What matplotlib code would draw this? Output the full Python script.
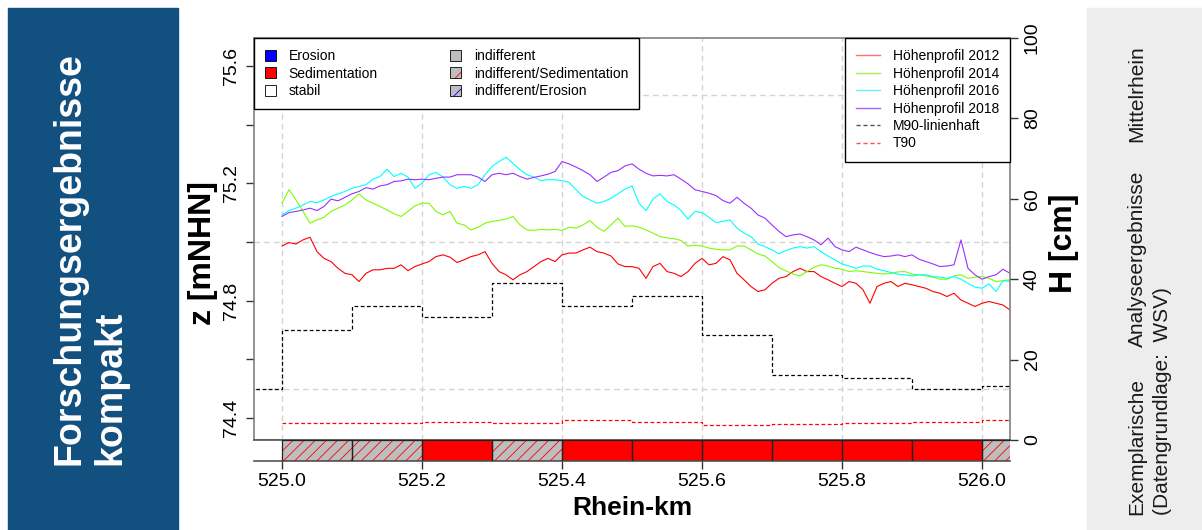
import numpy as np
import matplotlib
matplotlib.use("Agg")
import matplotlib.pyplot as plt
from matplotlib.patches import Patch, Rectangle
from matplotlib.lines import Line2D

plt.rcParams["font.family"] = ["Liberation Sans", "DejaVu Sans"]
plt.rcParams["hatch.linewidth"] = 0.6

# Rhein-km Stationen (alle 10 m)
km = np.round(np.linspace(525.0, 526.04, 105), 2)

hp_2012 = [74.986, 74.998, 74.993, 75.007, 75.016, 74.967, 74.944, 74.933, 74.910, 74.893,
           74.888, 74.865, 74.893, 74.905, 74.905, 74.910, 74.910, 74.922, 74.902, 74.916,
           74.925, 74.933, 74.950, 74.956, 74.948, 74.930,
           74.939, 74.950, 74.956, 74.967, 74.927, 74.899, 74.888, 74.871, 74.888, 74.899,
           74.916, 74.933, 74.944, 74.933, 74.956, 74.962, 74.962, 74.973, 74.982, 74.967,
           74.962, 74.952, 74.925, 74.916, 74.916,
           74.910, 74.876, 74.916, 74.927, 74.899, 74.893, 74.882, 74.899, 74.927, 74.944,
           74.922, 74.927, 74.950, 74.939, 74.893, 74.871, 74.848, 74.831, 74.837, 74.859,
           74.876, 74.882, 74.899, 74.910, 74.899,
           74.899, 74.882, 74.871, 74.859, 74.848, 74.865, 74.859, 74.837, 74.791, 74.848,
           74.859, 74.865, 74.848, 74.859, 74.854, 74.848, 74.842, 74.831, 74.825, 74.814,
           74.825, 74.802, 74.791, 74.780, 74.791, 74.797, 74.791, 74.785, 74.768]

hp_2014 = [75.132, 75.178, 75.143, 75.104, 75.064, 75.075, 75.084, 75.104, 75.115, 75.126,
           75.143, 75.164, 75.143, 75.132, 75.121, 75.109, 75.096, 75.087, 75.104, 75.123,
           75.132, 75.132, 75.104, 75.092, 75.104, 75.064,
           75.058, 75.041, 75.050, 75.064, 75.070, 75.073, 75.078, 75.087, 75.058, 75.041,
           75.039, 75.043, 75.041, 75.043, 75.039, 75.050, 75.047, 75.058, 75.073, 75.050,
           75.036, 75.058, 75.081, 75.053, 75.055,
           75.050, 75.041, 75.030, 75.018, 75.014, 75.011, 75.005, 74.986, 74.989, 74.986,
           74.979, 74.975, 74.973, 74.973, 74.986, 74.986, 74.973, 74.959, 74.952, 74.933,
           74.913, 74.901, 74.891, 74.884, 74.899,
           74.914, 74.922, 74.918, 74.910, 74.907, 74.899, 74.902, 74.899, 74.896, 74.893,
           74.891, 74.893, 74.898, 74.899, 74.890, 74.888, 74.884, 74.880, 74.873, 74.873,
           74.884, 74.888, 74.876, 74.880, 74.882, 74.876, 74.865, 74.868, 74.871]

hp_2016 = [75.092, 75.107, 75.115, 75.126, 75.138, 75.134, 75.143, 75.155, 75.164, 75.172,
           75.183, 75.189, 75.195, 75.214, 75.223, 75.248, 75.223, 75.234, 75.221, 75.183,
           75.200, 75.229, 75.237, 75.221, 75.195, 75.183,
           75.189, 75.183, 75.195, 75.229, 75.257, 75.274, 75.289, 75.268, 75.246, 75.229,
           75.221, 75.209, 75.212, 75.212, 75.209, 75.203, 75.178, 75.155, 75.143, 75.132,
           75.138, 75.149, 75.164, 75.180, 75.191,
           75.132, 75.107, 75.146, 75.164, 75.138, 75.126, 75.107, 75.078, 75.104, 75.100,
           75.084, 75.066, 75.070, 75.075, 75.047, 75.030, 75.018, 74.993, 74.984, 74.973,
           74.959, 74.971, 74.979, 74.984, 74.979,
           74.984, 74.967, 74.952, 74.939, 74.925, 74.918, 74.910, 74.918, 74.918, 74.907,
           74.902, 74.896, 74.890, 74.888, 74.884, 74.888, 74.888, 74.882, 74.880, 74.876,
           74.882, 74.873, 74.859, 74.846, 74.842, 74.857, 74.831, 74.868, 74.865]

hp_2018 = [75.087, 75.100, 75.104, 75.109, 75.115, 75.107, 75.121, 75.146, 75.140, 75.152,
           75.164, 75.172, 75.185, 75.180, 75.191, 75.195, 75.206, 75.208, 75.214, 75.212,
           75.214, 75.212, 75.217, 75.221, 75.221, 75.229,
           75.229, 75.229, 75.221, 75.206, 75.229, 75.234, 75.229, 75.234, 75.223, 75.214,
           75.220, 75.225, 75.231, 75.240, 75.274, 75.266, 75.255, 75.243, 75.229, 75.206,
           75.221, 75.237, 75.243, 75.259, 75.266,
           75.248, 75.234, 75.225, 75.227, 75.225, 75.229, 75.214, 75.198, 75.178, 75.172,
           75.166, 75.158, 75.141, 75.132, 75.152, 75.132, 75.115, 75.092, 75.081, 75.058,
           75.036, 75.018, 75.024, 75.027, 75.018,
           75.007, 74.990, 75.013, 74.984, 74.973, 74.967, 74.982, 74.973, 74.964, 74.956,
           74.950, 74.952, 74.956, 74.950, 74.956, 74.941, 74.933, 74.925, 74.916, 74.918,
           74.922, 75.007, 74.910, 74.888, 74.873, 74.882, 74.888, 74.907, 74.893]

# M90 / T90 je 100-m-Abschnitt [cm]
m90_start = [524.9, 525.0, 525.1, 525.2, 525.3, 525.4, 525.5, 525.6, 525.7, 525.8, 525.9, 526.0]
m90_cm = [12.7, 27.3, 33.4, 30.5, 39.0, 33.4, 35.7, 26.0, 16.2, 15.5, 12.8, 13.4]
t90_start = [525.0, 525.1, 525.2, 525.3, 525.4, 525.5, 525.6, 525.7, 525.8, 525.9, 526.0]
t90_cm = [4.15, 4.3, 4.6, 4.15, 4.9, 4.6, 3.7, 3.9, 4.2, 4.6, 4.9]

# Klassifizierung der Abschnitte
seg_start = [525.0, 525.1, 525.2, 525.3, 525.4, 525.5, 525.6, 525.7, 525.8, 525.9, 526.0]
seg_class = ["iS", "iS", "S", "iS", "S", "S", "S", "S", "S", "S", "iS"]

x_ticks = [525.0, 525.2, 525.4, 525.6, 525.8, 526.0]
z_ticks = [74.4, 74.6, 74.8, 75.0, 75.2, 75.4, 75.6]
z_labels = ["74.4", "", "74.8", "", "75.2", "", "75.6"]
h_ticks = [0, 20, 40, 60, 80, 100]
z_grid = [74.5, 75.0, 75.5]

W, H = 1202, 530
fig = plt.figure(figsize=(W / 100, H / 100), dpi=100)

# Seitenbalken
fig.add_artist(Rectangle((8 / W, 0), 170 / W, 522 / H, transform=fig.transFigure,
                         color="#11507F", zorder=0))
fig.add_artist(Rectangle((1087 / W, 0), 115 / W, 522 / H, transform=fig.transFigure,
                         color="#EDEDED", zorder=0))
fig.text(90 / W, 1 - 465 / H, "Forschungsergebnisse\nkompakt", rotation=90, color="white",
         fontsize=27, fontweight="bold", ha="center", va="bottom", multialignment="left",
         linespacing=1.2)
fig.text(1137 / W, 1 - 515 / H, "Exemplarische", rotation=90, fontsize=15,
         ha="center", va="bottom", color="#1A1A1A")
fig.text(1137 / W, 1 - 259 / H, "Analyseergebnisse", rotation=90, fontsize=15,
         ha="center", va="center", color="#1A1A1A")
fig.text(1137 / W, 1 - 45 / H, "Mittelrhein", rotation=90, fontsize=15,
         ha="center", va="top", color="#1A1A1A")
fig.text(1163 / W, 1 - 515 / H, "(Datengrundlage:  WSV)", rotation=90, fontsize=15,
         ha="center", va="bottom", color="#1A1A1A")

xlim = (524.96, 526.04)
ax = fig.add_axes([254 / W, 1 - 440 / H, 756 / W, 402 / H])
ax_bar = fig.add_axes([254 / W, 1 - 461 / H, 756 / W, 21 / H], sharex=ax)

grid_kw = dict(color="#D3D3D3", lw=1.0, ls=(0, (4, 3)), zorder=0)
for xt in x_ticks:
    ax.axvline(xt, **grid_kw)
    ax_bar.axvline(xt, **grid_kw)
for zg in z_grid:
    ax.axhline(zg, **grid_kw)

ax.plot(km, hp_2012, color="red", lw=0.8, zorder=2)
ax.plot(km, hp_2014, color="#7CFC00", lw=0.8, zorder=2)
ax.plot(km, hp_2016, color="cyan", lw=0.8, zorder=2)
ax.plot(km, hp_2018, color="#9B30FF", lw=0.8, zorder=2)
ax.set_xlim(*xlim)
ax.set_ylim(74.325, 75.695)
ax.set_yticks(z_ticks)
ax.set_yticklabels(z_labels, rotation=90, va="center", fontsize=14)
ax.tick_params(axis="y", length=6, width=1, color="#333333", pad=4)
ax.tick_params(axis="x", bottom=False, labelbottom=False)
ax.set_ylabel("z [mNHN]", fontsize=23, fontweight="bold", labelpad=4, y=0.465)
for s in ax.spines.values():
    s.set_color("#808080")
    s.set_linewidth(1.2)

ax2 = ax.twinx()
ax2.step(m90_start + [526.1], m90_cm + [m90_cm[-1]], where="post", color="black",
         lw=0.9, ls=(0, (3, 2)), zorder=3)
ax2.step(t90_start + [526.1], t90_cm + [t90_cm[-1]], where="post", color="red",
         lw=0.9, ls=(0, (3, 2)), zorder=3)
ax2.set_ylim(0, 100)
ax2.set_yticks(h_ticks)
ax2.set_yticklabels([str(v) for v in h_ticks], rotation=90, va="center", fontsize=14)
ax2.tick_params(axis="y", length=6, width=1, color="#333333", pad=4)
ax2.set_ylabel("H [cm]", fontsize=23, fontweight="bold", labelpad=6, y=0.49)
for s in ax2.spines.values():
    s.set_visible(False)

# Klassenbalken
for x0, cls in zip(seg_start, seg_class):
    if cls == "S":
        ax_bar.add_patch(Rectangle((x0, 0), 0.1, 1, facecolor="red", edgecolor="none", zorder=2))
    else:
        ax_bar.add_patch(Rectangle((x0, 0), 0.1, 1, facecolor="#BEBEBE", edgecolor="none", zorder=2))
        ax_bar.add_patch(Rectangle((x0, 0), 0.1, 1, facecolor="none", edgecolor="red",
                                   hatch="///", lw=0, zorder=3))
    ax_bar.add_patch(Rectangle((x0, 0), 0.1, 1, facecolor="none", edgecolor="#222222",
                               lw=0.9, zorder=4))
ax_bar.set_ylim(0, 1)
ax_bar.set_xlim(*xlim)
ax_bar.set_yticks([])
ax_bar.set_xticks(x_ticks)
ax_bar.set_xticklabels([f"{v:.1f}" for v in x_ticks], fontsize=14)
ax_bar.tick_params(axis="x", length=6, width=1, color="#333333", pad=3)
ax_bar.set_xlabel("Rhein-km", fontsize=19, fontweight="bold", labelpad=4)
ax_bar.spines["left"].set_visible(False)
ax_bar.spines["right"].set_visible(False)
for side in ("top", "bottom"):
    ax_bar.spines[side].set_color("#555555")
    ax_bar.spines[side].set_linewidth(1.2)

# Legenden
cls_handles = [
    Patch(facecolor="blue", edgecolor="black", lw=0.6),
    Patch(facecolor="red", edgecolor="black", lw=0.6),
    Patch(facecolor="white", edgecolor="black", lw=0.6),
    Patch(facecolor="#BEBEBE", edgecolor="black", lw=0.6),
    (Patch(facecolor="#BEBEBE", edgecolor="black", lw=0.6),
     Patch(facecolor="none", edgecolor="red", hatch="//", lw=0)),
    (Patch(facecolor="#BEBEBE", edgecolor="black", lw=0.6),
     Patch(facecolor="none", edgecolor="blue", hatch="//", lw=0)),
]
cls_labels = ["Erosion", "Sedimentation", "stabil", "indifferent",
              "indifferent/Sedimentation", "indifferent/Erosion"]
leg1 = ax2.legend(cls_handles, cls_labels, loc="upper left", ncol=2, fontsize=10,
                  frameon=True, fancybox=False, edgecolor="black", framealpha=1,
                  borderaxespad=0, handlelength=0.8, handleheight=0.8, handletextpad=0.9,
                  columnspacing=5.2, labelspacing=0.25, borderpad=0.8)
leg1.get_frame().set_linewidth(1.0)
ax2.add_artist(leg1)

line_handles = [
    Line2D([], [], color="#FF7070", lw=1),
    Line2D([], [], color="#A8F060", lw=1),
    Line2D([], [], color="#70F0F0", lw=1),
    Line2D([], [], color="#A860FF", lw=1),
    Line2D([], [], color="#555555", lw=1, ls=(0, (3, 2))),
    Line2D([], [], color="#FF5050", lw=1, ls=(0, (3, 2))),
]
line_labels = ["Höhenprofil 2012", "Höhenprofil 2014", "Höhenprofil 2016",
               "Höhenprofil 2018", "M90-linienhaft", "T90"]
leg2 = ax2.legend(line_handles, line_labels, loc="upper right", fontsize=10,
                  frameon=True, fancybox=False, edgecolor="black", framealpha=1,
                  borderaxespad=0, handlelength=1.7, handletextpad=0.9,
                  labelspacing=0.25, borderpad=0.8)
leg2.get_frame().set_linewidth(1.0)

fig.savefig("out.png", dpi=100)
